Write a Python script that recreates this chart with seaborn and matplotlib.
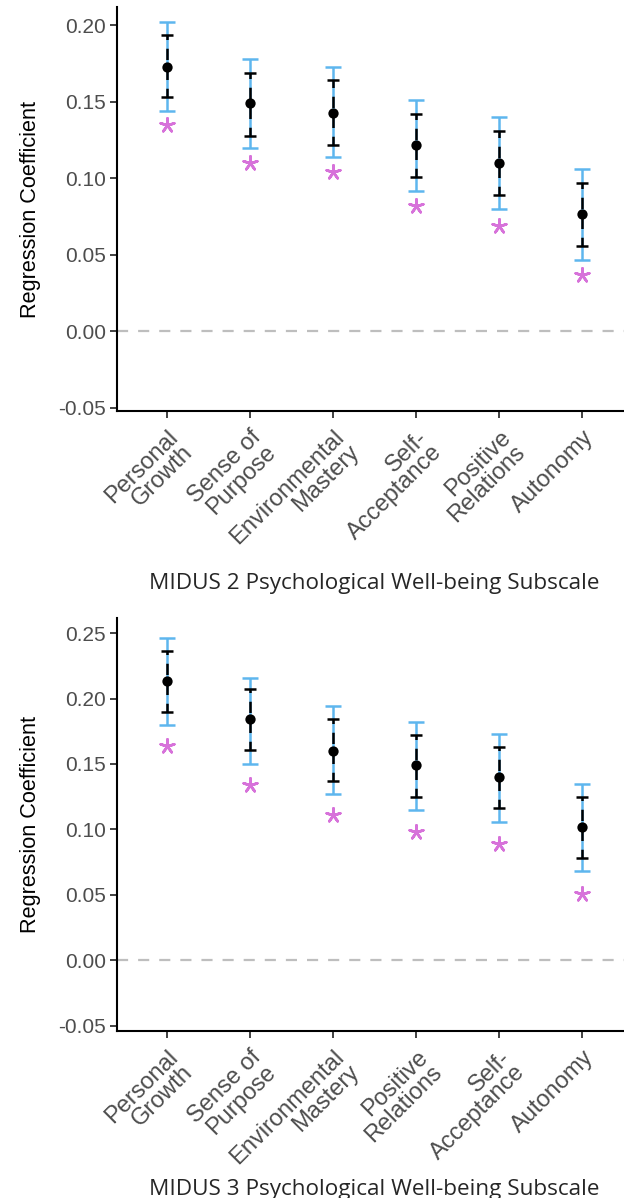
import numpy as np
import pandas as pd
import seaborn as sns
import matplotlib.pyplot as plt

# MIDUS 2 panel
m2_labels = ["Personal\nGrowth", "Sense of\nPurpose", "Environmental\nMastery",
             "Self-\nAcceptance", "Positive\nRelations", "Autonomy"]
m2_est = [0.173, 0.149, 0.143, 0.122, 0.110, 0.077]
m2_lo90 = [0.153, 0.128, 0.122, 0.101, 0.089, 0.056]
m2_hi90 = [0.194, 0.169, 0.164, 0.142, 0.131, 0.097]
m2_lo95 = [0.144, 0.120, 0.114, 0.092, 0.080, 0.047]
m2_hi95 = [0.202, 0.178, 0.173, 0.151, 0.140, 0.106]
m2_star = [0.135, 0.110, 0.104, 0.082, 0.069, 0.037]

# MIDUS 3 panel
m3_labels = ["Personal\nGrowth", "Sense of\nPurpose", "Environmental\nMastery",
             "Positive\nRelations", "Self-\nAcceptance", "Autonomy"]
m3_est = [0.213, 0.184, 0.160, 0.149, 0.140, 0.102]
m3_lo90 = [0.190, 0.161, 0.137, 0.125, 0.116, 0.078]
m3_hi90 = [0.236, 0.207, 0.184, 0.172, 0.163, 0.125]
m3_lo95 = [0.180, 0.150, 0.127, 0.115, 0.106, 0.068]
m3_hi95 = [0.246, 0.216, 0.194, 0.182, 0.173, 0.135]
m3_star = [0.164, 0.134, 0.111, 0.098, 0.089, 0.051]

sns.set_theme(style="ticks")
plt.rcParams['font.family'] = ['Liberation Sans', 'DejaVu Sans']

fig = plt.figure(figsize=(6.24, 11.98), dpi=100)
ax1 = fig.add_axes([117/624, 1 - 411/1198, 1 - 117/624, 404/1198])
ax2 = fig.add_axes([117/624, 1 - 1031/1198, 1 - 117/624, 413/1198])

blue = '#5EB6EE'
pink = '#D772DA'


def draw_panel(ax, labels, est, lo90, hi90, lo95, hi95, star, ylim, ticks, title, title_y):
    df = pd.DataFrame({'sub': labels, 'est': est, 'lo90': lo90, 'hi90': hi90,
                       'lo95': lo95, 'hi95': hi95, 'star': star})
    x = np.arange(len(df))
    ax.axhline(0, color='#BEBEBE', lw=1.6, dashes=(5, 4.5), zorder=1)
    # outer interval (blue)
    ax.errorbar(x, df['est'], yerr=[df['est'] - df['lo95'], df['hi95'] - df['est']],
                fmt='none', ecolor=blue, elinewidth=1.8, capsize=6, capthick=1.8, zorder=2)
    # inner interval (black dashed)
    eb = ax.errorbar(x, df['est'], yerr=[df['est'] - df['lo90'], df['hi90'] - df['est']],
                     fmt='none', ecolor='black', elinewidth=1.8, capsize=4.2, capthick=1.8, zorder=3)
    eb[2][0].set_linestyle((1, (4.5, 3.5)))
    sns.scatterplot(data=df, x='sub', y='est', color='black', s=55, edgecolor='black',
                    linewidth=0, zorder=4, ax=ax)
    sns.scatterplot(data=df, x='sub', y='star', color=pink, marker=(5, 2, 0), s=105,
                    linewidth=1.9, zorder=4, ax=ax)
    ax.set_xlim(-0.6, 5.5)
    ax.set_ylim(*ylim)
    ax.set_yticks(ticks)
    ax.set_yticklabels(['%.2f' % t for t in ticks])
    ax.set_xticks(x)
    ax.set_xticklabels(df['sub'], rotation=45, ha='right', rotation_mode='anchor',
                       fontsize=17, color='#4D4D4D', linespacing=0.95)
    ax.tick_params(axis='y', labelsize=15, labelcolor='#4D4D4D', length=5, width=1.3,
                   color='#333333', pad=3)
    ax.tick_params(axis='x', length=5, width=1.3, color='#333333', pad=6)
    ax.set_xlabel('')
    ax.set_ylabel('Regression Coefficient', fontsize=15.6, color='black', labelpad=12)
    sns.despine(ax=ax)
    ax.spines['left'].set_linewidth(1.5)
    ax.spines['bottom'].set_linewidth(1.5)
    ax.spines['left'].set_color('black')
    ax.spines['bottom'].set_color('black')
    fig.text(374/624, title_y, title, ha='center', va='baseline', fontsize=16.2,
             family=['Open Sans', 'DejaVu Sans'], color='#262626')


draw_panel(ax1, m2_labels, m2_est, m2_lo90, m2_hi90, m2_lo95, m2_hi95, m2_star,
           (-0.052, 0.212), [-0.05, 0.00, 0.05, 0.10, 0.15, 0.20],
           'MIDUS 2 Psychological Well-being Subscale', 1 - 589/1198)
draw_panel(ax2, m3_labels, m3_est, m3_lo90, m3_hi90, m3_lo95, m3_hi95, m3_star,
           (-0.054, 0.2615), [-0.05, 0.00, 0.05, 0.10, 0.15, 0.20, 0.25],
           'MIDUS 3 Psychological Well-being Subscale', 1 - 1195/1198)

fig.savefig('out.png', dpi=100)
